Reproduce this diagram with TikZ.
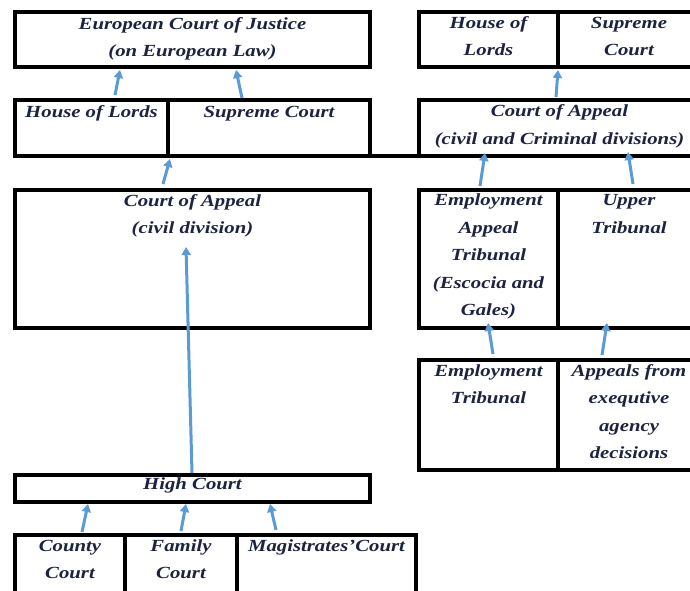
\documentclass[tikz,border=0pt]{standalone}
\usepackage{fontspec}
\newfontfamily\tf[FakeStretch=1.22]{Liberation Serif}
\usetikzlibrary{arrows.meta,calc}
\definecolor{txtc}{HTML}{1C2340}
\definecolor{arrc}{HTML}{5B9BD5}
\newcommand\firstln{\rule{0pt}{13pt}}
\begin{document}
\begin{tikzpicture}[x=1pt,y=1pt,
 box/.style={draw=black, line width=3.6pt, fill=white, inner sep=0pt, outer sep=0pt, anchor=north west},
 txt/.style={anchor=north, inner sep=0pt, align=center, text=txtc, font=\tf\bfseries\itshape\fontsize{17}{27.5}\selectfont},
 arr/.style={draw=arrc, line width=3pt, -{Triangle[length=8pt,width=9pt]}}]
\useasboundingbox (0,0) rectangle (690,-590);
\fill[white] (0,0) rectangle (690,-590);

% boxes
\node[box, minimum width=355pt, minimum height=55pt] (ecj) at (15,-12) {};
\node[box, minimum width=153pt, minimum height=56pt] (hol) at (15,-100) {};
\node[box, minimum width=202pt, minimum height=56pt] (sc) at (168,-100) {};
\node[box, minimum width=139pt, minimum height=55pt] (rhol) at (419,-12) {};
\node[box, minimum width=142pt, minimum height=55pt] (rsc) at (558,-12) {};
\node[box, minimum width=281pt, minimum height=56pt] (rcoa) at (419,-100) {};
\node[box, minimum width=355pt, minimum height=138pt] (coac) at (15,-190) {};
\node[box, minimum width=139pt, minimum height=138pt] (eat) at (419,-190) {};
\node[box, minimum width=142pt, minimum height=138pt] (ut) at (558,-190) {};
\node[box, minimum width=139pt, minimum height=110pt] (et) at (419,-360) {};
\node[box, minimum width=142pt, minimum height=110pt] (afe) at (558,-360) {};
\node[box, minimum width=355pt, minimum height=27pt] (hc) at (15,-475) {};
\node[box, minimum width=110pt, minimum height=70pt] (cc) at (15,-535) {};
\node[box, minimum width=112pt, minimum height=70pt] (fc) at (125,-535) {};
\node[box, minimum width=179pt, minimum height=70pt] (mc) at (237,-535) {};

\draw[line width=3.6pt] (sc.south east) -- (rcoa.south west);

% texts
\node[txt] (ecjt) at ([yshift=-4pt]ecj.north) {\firstln European Court of Justice\\(on European Law)};
\node[txt] (holt) at ([yshift=-4pt]hol.north) {\firstln House of Lords};
\node[txt] (sct) at ([yshift=-4pt]sc.north) {\firstln Supreme Court};
\node[txt] (rholt) at ([yshift=-3pt]rhol.north) {\firstln House of\\Lords};
\node[txt] (rsct) at ([yshift=-3pt]rsc.north) {\firstln Supreme\\Court};
\node[txt] (rcoat) at ([yshift=-3.5pt]rcoa.north) {\firstln Court of Appeal\\(civil and Criminal divisions)};
\node[txt] (coact) at ([yshift=-3pt]coac.north) {\firstln Court of Appeal\\(civil division)};
\node[txt] (eatt) at ([yshift=-2.5pt]eat.north) {\firstln Employment\\Appeal\\Tribunal\\(Escocia and\\Gales)};
\node[txt] (utt) at ([yshift=-2.5pt]ut.north) {\firstln Upper\\Tribunal};
\node[txt] (ett) at ([yshift=-3pt]et.north) {\firstln Employment\\Tribunal};
\node[txt] (afet) at ([yshift=-3pt]afe.north) {\firstln Appeals from\\exequtive\\agency\\decisions};
\node[txt] (hct) at ([yshift=-1.5pt]hc.north) {\firstln High Court};
\node[txt] (cct) at ([yshift=-3pt]cc.north) {\firstln County\\Court};
\node[txt] (fct) at ([yshift=-3pt]fc.north) {\firstln Family\\Court};
\node[txt] (mct) at ([yshift=-3pt]mc.north) {\firstln Magistrates’Court};

% arrows
\draw[arr] ($(hol.north west)+(100,5)$) -- ($(ecj.south west)+(105,-3)$);
\draw[arr] ($(sc.north west)+(74,2)$) -- ($(ecj.south west)+(221,-3)$);
\draw[arr] ($(coac.north west)+(148,6)$) -- ($(hol.south east)+(2,-3)$);
\draw[arr] ($(hc.north west)+(177,2)$) -- ($(coac.north west)+(171,-57)$);
\draw[arr] ($(cc.north west)+(67,3)$) -- ($(hc.south west)+(73,-2)$);
\draw[arr] ($(fc.north west)+(56,4)$) -- ($(hc.south west)+(171,-2)$);
\draw[arr] ($(mc.north west)+(39,5)$) -- ($(hc.south west)+(255,-2)$);
\draw[arr] ($(rcoa.north west)+(137,3)$) -- ($(rhol.south east)+(0,-3)$);
\draw[arr] ($(eat.north west)+(61,4)$) -- ($(rcoa.south west)+(66,3)$);
\draw[arr] ($(ut.north west)+(75,6)$) -- ($(rcoa.south west)+(209,4)$);
\draw[arr] ($(et.north west)+(74,6)$) -- ($(eat.south west)+(69,5)$);
\draw[arr] ($(afe.north west)+(44,5)$) -- ($(ut.south west)+(49,5)$);
\end{tikzpicture}
\end{document}
